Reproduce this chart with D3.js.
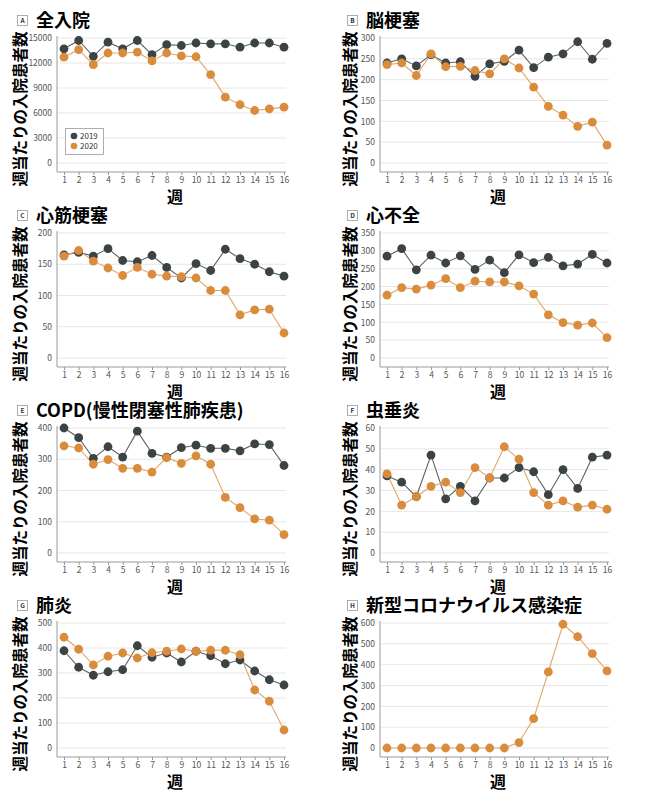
<!DOCTYPE html>
<html><head><meta charset="utf-8">
<script src="https://cdn.jsdelivr.net/npm/d3@7"></script>
<style>
body{margin:0;background:#fff;}
svg text{font-family:"Noto Sans CJK JP","Noto Sans",sans-serif;}
</style></head>
<body><svg id="c" width="645" height="800"></svg>
<script>
const weeks = d3.range(1, 17);
const seriesNames = ["2019", "2020"];
const panelLetters = ["A","B","C","D","E","F","G","H"];
const panelTitles = ["全入院","脳梗塞","心筋梗塞","心不全","COPD(慢性閉塞性肺疾患)","虫垂炎","肺炎","新型コロナウイルス感染症"];
const yMaxes = [15000, 300, 200, 350, 400, 60, 500, 600];
const yTickSteps = [3000, 50, 50, 50, 100, 10, 100, 100];
const yTitle = "週当たりの入院患者数";
const xTitle = "週";

const allAdm2019 = [13700,14700,12800,14500,13700,14700,13000,14200,14100,14400,14300,14300,13900,14400,14400,13900];
const allAdm2020 = [12700,13600,11800,13200,13200,13300,12250,13200,12850,12750,10600,7900,7000,6300,6500,6700];
const stroke2019 = [240,250,233,260,240,243,208,238,244,271,229,254,262,291,249,287];
const stroke2020 = [236,240,210,262,231,232,222,214,250,228,182,136,115,88,98,43];
const mi2019 = [165,169,163,175,156,154,164,145,128,151,140,174,159,150,138,131];
const mi2020 = [163,172,155,144,132,145,134,131,130,128,108,108,69,77,78,40];
const hf2019 = [285,306,247,288,266,286,248,274,239,289,267,282,258,263,290,266];
const hf2020 = [176,197,193,204,222,197,215,213,213,202,179,121,99,92,98,57];
const copd2019 = [400,369,303,340,307,390,319,307,337,345,335,335,327,349,347,280];
const copd2020 = [343,336,284,299,271,271,259,305,287,311,284,178,145,109,105,59];
const app2019 = [37,34,27,47,26,32,25,36,36,41,39,28,40,31,46,47];
const app2020 = [38,23,27,32,34,29,41,36,51,45,29,23,25,22,23,21];
const pn2019 = [389,323,291,305,313,409,363,380,344,387,369,337,352,308,273,252];
const pn2020 = [443,395,332,367,380,360,381,387,396,387,391,391,373,232,187,72];
const covid2020 = [0,0,0,0,0,0,0,0,0,26,141,365,594,534,453,370];

const panelData = [
  [allAdm2019, allAdm2020],
  [stroke2019, stroke2020],
  [mi2019, mi2020],
  [hf2019, hf2020],
  [copd2019, copd2020],
  [app2019, app2020],
  [pn2019, pn2020],
  [null, covid2020]
];

const dotColor = {"2019":"#3b4345","2020":"#d98c3c"};
const lineColor = {"2019":"#5b6163","2020":"#e3a567"};

const svg = d3.select("#c");

panelData.forEach((pd, i) => {
  const col = i % 2, row = Math.floor(i / 2);
  const ox = col ? 323 : 0, tox = col ? 330 : 0, oy = row * 195;
  const g = svg.append("g").attr("transform", `translate(${ox},${oy})`);
  const tg = svg.append("g").attr("transform", `translate(${tox},${oy})`);

  // panel letter box
  tg.append("rect").attr("x", 17.5).attr("y", 15.5).attr("width", 10).attr("height", 10)
    .attr("fill", "#fff").attr("stroke", "#9a9a9a").attr("stroke-width", 0.8);
  tg.append("text").attr("x", 22.5).attr("y", 23.3).attr("text-anchor", "middle")
    .attr("font-size", 6.5).attr("font-weight", "bold").attr("fill", "#333").text(panelLetters[i]);
  tg.append("text").attr("x", 36).attr("y", 27).attr("font-size", 18).attr("font-weight", "bold")
    .attr("fill", "#000").text(panelTitles[i]);
  // y title
  tg.append("text").attr("transform", "translate(26,109) rotate(-90)").attr("text-anchor", "middle")
    .attr("font-size", 15.5).attr("font-weight", "bold").attr("fill", "#000").text(yTitle);

  const x = d3.scaleLinear().domain([1, 16]).range([64, 284]);
  const y = d3.scaleLinear().domain([0, yMaxes[i]]).range([163, 38]);
  const ticks = d3.range(0, yMaxes[i] + 1e-9, yTickSteps[i]);

  // gridlines
  g.append("g").selectAll("line").data(ticks).join("line")
    .attr("x1", 57).attr("x2", 286).attr("y1", d => y(d)).attr("y2", d => y(d))
    .attr("stroke", "#e6e6e6").attr("stroke-width", 1);

  // y axis
  const ya = g.append("g").attr("transform", "translate(57,0)")
    .call(d3.axisLeft(y).tickValues(ticks).tickSize(0).tickPadding(5).tickFormat(d3.format("d")));
  ya.select(".domain").remove();
  ya.selectAll("text").attr("font-size", 8.5).attr("fill", "#555").attr("font-family", "'Open Sans','Noto Sans',sans-serif");
  g.append("line").attr("x1", 57).attr("x2", 57).attr("y1", 36).attr("y2", 172).attr("stroke", "#9a9a9a");

  // x axis
  const xa = g.append("g").attr("transform", "translate(0,172)")
    .call(d3.axisBottom(x).tickValues(weeks).tickSize(3).tickPadding(2).tickFormat(d3.format("d")));
  xa.select(".domain").remove();
  xa.selectAll("line").attr("stroke", "#9a9a9a");
  xa.selectAll("text").attr("font-size", 8.5).attr("fill", "#555").attr("font-family", "'Open Sans','Noto Sans',sans-serif");
  g.append("line").attr("x1", 57).attr("x2", 286).attr("y1", 172).attr("y2", 172).attr("stroke", "#9a9a9a");

  g.append("text").attr("x", 175).attr("y", 203).attr("text-anchor", "middle")
    .attr("font-size", 16).attr("font-weight", "bold").attr("fill", "#000").text(xTitle);

  const line = d3.line().x((d, k) => x(weeks[k])).y(d => y(d));
  pd.forEach((vals, s) => {
    if (!vals) return;
    const name = seriesNames[s];
    g.append("path").datum(vals).attr("d", line).attr("fill", "none")
      .attr("stroke", lineColor[name]).attr("stroke-width", 1.1);
  });
  pd.forEach((vals, s) => {
    if (!vals) return;
    const name = seriesNames[s];
    g.append("g").selectAll("circle").data(vals).join("circle")
      .attr("cx", (d, k) => x(weeks[k])).attr("cy", d => y(d)).attr("r", 4.4)
      .attr("fill", dotColor[name]);
  });

  if (i === 0) {
    const lg = g.append("g");
    lg.append("rect").attr("x", 65.5).attr("y", 128.5).attr("width", 38).attr("height", 26)
      .attr("fill", "#fff").attr("stroke", "#999").attr("stroke-width", 0.8);
    seriesNames.forEach((n, k) => {
      lg.append("circle").attr("cx", 74).attr("cy", 136 + k * 10).attr("r", 3.3).attr("fill", dotColor[n]);
      lg.append("text").attr("x", 80).attr("y", 139 + k * 10).attr("font-size", 8)
        .attr("fill", "#333").attr("font-family", "'Open Sans','Noto Sans',sans-serif").text(n);
    });
  }
});
</script></body></html>
